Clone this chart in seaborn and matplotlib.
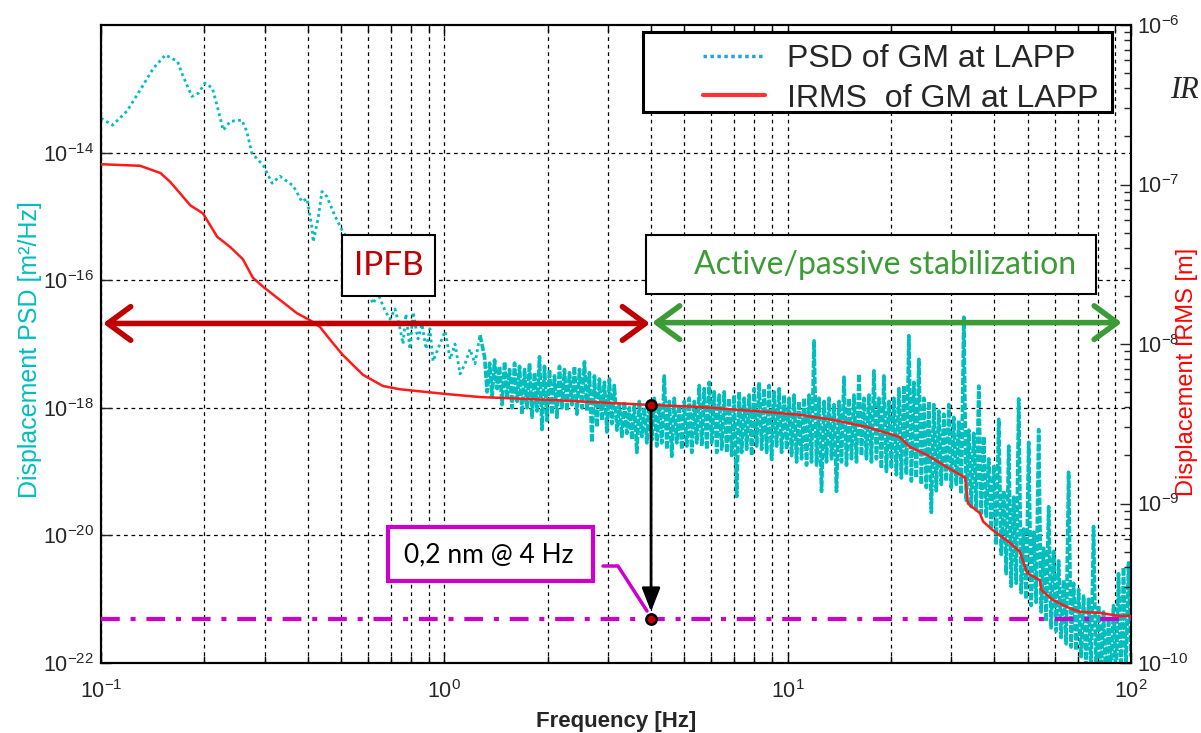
import numpy as np
import matplotlib
matplotlib.use("Agg")
import matplotlib.pyplot as plt
import seaborn as sns
from matplotlib.patches import Rectangle
from matplotlib.lines import Line2D
from matplotlib.ticker import (FixedLocator, LogLocator, NullLocator,
                               NullFormatter, LogFormatterSciNotation)

# ---------------- data ----------------
# PSD of ground motion, low-frequency part: frequency [Hz] and log10(PSD [m^2/Hz])
psd_lo_freq = [0.100, 0.108, 0.119, 0.130, 0.142, 0.154, 0.167, 0.173, 0.184, 0.192,
               0.201, 0.211, 0.218, 0.227, 0.238, 0.257, 0.266, 0.275, 0.297, 0.315,
               0.332, 0.363, 0.385, 0.398, 0.412, 0.415, 0.429, 0.440, 0.455, 0.480,
               0.504, 0.53, 0.56, 0.59, 0.608, 0.620, 0.641, 0.672, 0.695, 0.718,
               0.743, 0.758, 0.773, 0.794, 0.811, 0.838, 0.861, 0.885, 0.908, 0.927,
               0.971, 1.005, 1.04, 1.074, 1.111, 1.149, 1.188, 1.228, 1.27]
psd_lo_exp = [-13.46, -13.57, -13.35, -13.02, -12.68, -12.47, -12.57, -12.79, -13.12, -13.07,
              -12.91, -12.99, -13.27, -13.65, -13.51, -13.49, -13.67, -14.01, -14.20, -14.48,
              -14.37, -14.52, -14.77, -14.72, -15.19, -15.40, -15.03, -14.61, -14.69, -14.99,
              -15.22, -15.40, -15.55, -15.85, -16.25, -16.37, -16.21, -16.48, -16.61, -16.45,
              -16.76, -17.00, -16.53, -17.08, -16.50, -16.92, -16.69, -17.08, -16.76, -17.27,
              -17.00, -16.80, -17.24, -17.00, -17.47, -17.31, -17.08, -17.31, -16.86]

# PSD, dense part 1.31 - 100 Hz (log10 values, successive high / low samples)
psd_hf_range = (1.31, 100.0)
psd_hf_exp = [
    -17.20, -17.75, -17.30, -17.82, -17.25, -17.70, -17.35, -17.95, -17.28, -17.85,
    -17.40, -18.00, -17.30, -17.90, -17.35, -18.10, -17.40, -18.00, -17.30, -18.15,
    -17.45, -18.05, -17.20, -18.34, -17.35, -18.20, -17.40, -18.10, -17.50, -18.15,
    -17.35, -18.00, -17.40, -18.05, -17.45, -17.95, -17.35, -18.10, -17.40, -18.00,
    -17.28, -18.05, -17.45, -18.54, -17.50, -18.30, -17.55, -18.20, -17.60, -18.38,
    -17.55, -18.25, -17.65, -18.35, -17.95, -18.45, -17.90, -18.40, -18.00, -18.50,
    -17.95, -18.70, -17.90, -18.45, -18.00, -18.55, -17.90, -18.50, -17.85, -18.60,
    -17.95, -18.55, -17.50, -18.65, -17.90, -18.76, -17.85, -18.55, -17.95, -18.65,
    -17.90, -18.60, -17.85, -18.70, -17.90, -18.55, -17.65, -18.60, -17.70, -18.65,
    -17.60, -18.55, -17.75, -18.70, -17.80, -18.65, -17.75, -18.70, -17.85, -18.75,
    -17.80, -19.39, -17.75, -18.70, -17.85, -18.65, -17.80, -18.75, -17.70, -18.60,
    -17.60, -18.65, -17.70, -18.70, -17.65, -18.81, -17.75, -18.60, -17.70, -18.70,
    -17.80, -18.65, -17.85, -18.75, -17.80, -18.85, -17.90, -18.80, -17.85, -18.90,
    -17.80, -18.85, -16.95, -18.90, -17.85, -19.31, -17.90, -18.85, -17.85, -18.80,
    -17.95, -19.31, -17.90, -18.85, -17.52, -18.90, -17.85, -18.80, -17.80, -18.85,
    -17.47, -18.75, -17.85, -18.80, -17.80, -18.85, -17.42, -18.80, -17.85, -18.95,
    -17.50, -19.00, -17.90, -18.95, -17.85, -19.05, -17.70, -19.10, -17.65, -19.05,
    -16.87, -19.15, -17.60, -19.10, -17.24, -19.20, -17.85, -19.25, -17.90, -19.64,
    -17.95, -19.30, -18.05, -19.20, -18.10, -19.15, -17.95, -19.25, -18.15, -19.20,
    -18.20, -19.35, -16.58, -19.45, -18.35, -19.55, -18.40, -19.60, -17.66, -19.65,
    -18.45, -19.70, -18.80, -19.90, -18.90, -20.15, -18.18, -20.30, -19.30, -20.60,
    -18.60, -20.80, -19.40, -20.75, -17.86, -20.90, -19.90, -21.00, -18.54, -21.10,
    -19.95, -21.05, -18.34, -21.20, -20.20, -21.35, -19.55, -21.45, -20.25, -21.50,
    -20.40, -21.60, -20.70, -21.70, -19.01, -21.75, -20.75, -21.80, -20.85, -21.90,
    -20.95, -22.10, -21.00, -22.05, -19.86, -22.20, -21.10, -22.15, -21.20, -22.30,
    -21.30, -22.20, -21.10, -22.30, -20.60, -22.20, -20.50, -22.10, -20.43, -21.90,
]

# Integrated RMS displacement [m]
irms_freq = [0.100, 0.130, 0.149, 0.159, 0.170, 0.182, 0.198, 0.218, 0.238, 0.259,
             0.277, 0.297, 0.332, 0.372, 0.406, 0.434, 0.474, 0.507, 0.580, 0.663,
             0.743, 0.811, 1.02, 1.27, 2.03, 3.97, 5.56, 8.7, 10.9, 13.6,
             17.0, 21.2, 22.7, 25.5, 29.1, 32.9, 33.5, 36.3, 37.1, 39.6,
             44.5, 47.5, 49.8, 54.3, 54.8, 59.3, 65.2, 71.1, 81.3, 92.9, 100.0]
irms_val = [1.34e-7, 1.31e-7, 1.18e-7, 1.04e-7, 8.8e-8, 7.4e-8, 6.6e-8, 4.7e-8, 4.05e-8, 3.4e-8,
            2.6e-8, 2.28e-8, 1.89e-8, 1.56e-8, 1.41e-8, 1.28e-8, 1.01e-8, 8.5e-9, 6.4e-9, 5.45e-9,
            5.2e-9, 5.1e-9, 4.85e-9, 4.65e-9, 4.46e-9, 4.15e-9, 4.03e-9, 3.75e-9, 3.59e-9, 3.34e-9,
            3.02e-9, 2.61e-9, 2.26e-9, 2.01e-9, 1.69e-9, 1.45e-9, 1.0e-9, 8.7e-10, 7.7e-10, 6.8e-10,
            5.65e-10, 4.97e-10, 3.67e-10, 3.3e-10, 2.87e-10, 2.48e-10, 2.24e-10, 2.09e-10, 2.06e-10,
            1.97e-10, 1.97e-10]

# annotation values
marker_freq = 4.0          # Hz
rms_at_marker = 4.15e-9    # m
target_rms = 1.9e-10       # m  (0.2 nm)
band_split = 4.0           # Hz, IPFB | active/passive
band_min, band_max = 0.1014, 94.0
band_level = 2.1e-17       # PSD units, height of the band arrows

x_ticks = [0.1, 1, 10, 100]
psd_ticks = [1e-22, 1e-20, 1e-18, 1e-16, 1e-14]
irms_ticks = [1e-10, 1e-9, 1e-8, 1e-7, 1e-6]
legend_labels = ["PSD of GM at LAPP", "IRMS  of GM at LAPP"]

hf_freq = np.geomspace(psd_hf_range[0], psd_hf_range[1], len(psd_hf_exp))
lo_val = 10.0 ** np.array(psd_lo_exp)
hf_val = 10.0 ** np.array(psd_hf_exp)

# ---------------- style ----------------
sns.set_style("white")
plt.rcParams["font.family"] = ["Liberation Sans", "DejaVu Sans"]
plt.rcParams["mathtext.default"] = "regular"
plt.rcParams["axes.unicode_minus"] = False

CYAN = "#00BEBE"
RED = "#FF1A1A"
DARKRED = "#C00000"
GREEN = "#3B9B35"
MAGENTA = "#CC00CC"

W, H = 1201, 733
fig = plt.figure(figsize=(W / 100, H / 100), dpi=100)
fig.patch.set_facecolor("white")


def fx(px):
    return px / W


def fy(py):
    return 1 - py / H


ax = fig.add_axes([fx(101), fy(663), 1030 / W, 638 / H])
ax2 = ax.twinx()

# ---------------- curves ----------------
sns.lineplot(x=psd_lo_freq, y=lo_val, ax=ax, color=CYAN, linewidth=2.0,
             linestyle=(0, (1, 1.2)), estimator=None, sort=False, legend=False)
sns.lineplot(x=np.concatenate([psd_lo_freq[-1:], hf_freq]),
             y=np.concatenate([lo_val[-1:], hf_val]), ax=ax, color=CYAN, linewidth=2.6,
             linestyle=(0, (2.0, 0.5)), estimator=None, sort=False, legend=False)
sns.lineplot(x=irms_freq, y=irms_val, ax=ax2, color=RED, linewidth=1.8,
             estimator=None, sort=False, legend=False, zorder=4)

ax.set_xscale("log")
ax.set_yscale("log")
ax2.set_yscale("log")
ax.set_xlim(0.1, 100)
ax.set_ylim(1e-22, 1e-12)
ax2.set_ylim(1e-10, 1e-6)

# target level line
ax2.axhline(target_rms, color=MAGENTA, linewidth=3.0, dashes=(4.5, 2.6, 1.2, 2.6), zorder=3)

# ---------------- ticks & grid ----------------
ax.xaxis.set_major_locator(FixedLocator(x_ticks))
ax.xaxis.set_minor_locator(LogLocator(base=10, subs=np.arange(2, 10)))
ax.xaxis.set_minor_formatter(NullFormatter())
ax.xaxis.set_major_formatter(LogFormatterSciNotation())
ax.yaxis.set_major_locator(FixedLocator(psd_ticks))
ax.yaxis.set_minor_locator(NullLocator())
ax.yaxis.set_major_formatter(LogFormatterSciNotation())
ax2.yaxis.set_major_locator(FixedLocator(irms_ticks))
ax2.yaxis.set_minor_locator(LogLocator(base=10, subs=np.arange(2, 10)))
ax2.yaxis.set_minor_formatter(NullFormatter())
ax2.yaxis.set_major_formatter(LogFormatterSciNotation())

ax.tick_params(axis="x", which="both", direction="in", top=True, bottom=True,
               labelsize=15.5, pad=12, color="black", width=1)
ax.tick_params(axis="x", which="major", length=8)
ax.tick_params(axis="x", which="minor", length=5)
ax.tick_params(axis="y", which="major", direction="in", left=True, right=False,
               labelsize=15.5, pad=5, length=7, width=1)
ax2.tick_params(axis="y", which="both", direction="in", right=True, left=False,
                labelsize=15.5, pad=4, width=1)
ax2.tick_params(axis="y", which="major", length=8)
ax2.tick_params(axis="y", which="minor", length=5)

grid_kw = dict(color="black", linestyle=(0, (3, 3)), linewidth=0.9)
ax.grid(True, which="both", axis="x", **grid_kw)
ax.grid(True, which="major", axis="y", **grid_kw)

for a in (ax, ax2):
    for s in a.spines.values():
        s.set_color("black")
        s.set_linewidth(1.5)

# ---------------- labels ----------------
ax.set_xlabel("Frequency [Hz]", fontsize=16, fontweight="bold", labelpad=6)
ax.set_ylabel("Displacement PSD [m²/Hz]", fontsize=18, color=CYAN, va="center")
ax.yaxis.set_label_coords((30 - 101) / 1030, (663 - 350) / 638)
ax2.set_ylabel("Displacement IRMS [m]", fontsize=17, color="red", va="center", rotation=90)
ax2.yaxis.set_label_coords((1187 - 101) / 1030, (663 - 372) / 638)

fig.text(fx(1170), fy(90), "IR", fontsize=22, family="Liberation Serif", style="italic",
         ha="left", va="center")

# ---------------- band arrows ----------------
ax2.annotate("", xy=(band_split * 0.993, band_level), xycoords=ax.transData,
             xytext=(band_min, band_level), textcoords=ax.transData,
             arrowprops=dict(arrowstyle="<->,head_length=0.75,head_width=0.55",
                             color=DARKRED, lw=4, shrinkA=0, shrinkB=0, mutation_scale=22),
             zorder=6)
ax2.annotate("", xy=(band_max, band_level * 1.03), xycoords=ax.transData,
             xytext=(band_split * 1.007, band_level * 1.03), textcoords=ax.transData,
             arrowprops=dict(arrowstyle="<->,head_length=0.75,head_width=0.55",
                             color=GREEN, lw=4, shrinkA=0, shrinkB=0, mutation_scale=22),
             zorder=6)

# vertical arrow from IRMS at 4 Hz down to the 0.2 nm level
ax2.annotate("", xy=(marker_freq, target_rms), xytext=(marker_freq, rms_at_marker),
             arrowprops=dict(arrowstyle="-|>,head_length=0.9,head_width=0.35", color="black",
                             lw=2, shrinkA=0, shrinkB=5, mutation_scale=16), zorder=7)
ax2.scatter([marker_freq, marker_freq], [rms_at_marker, target_rms], s=55, c=DARKRED,
            edgecolors="black", linewidths=1.8, zorder=8)

# ---------------- text boxes (figure level, on top) ----------------
def box(x0, y0, x1, y1, ec="black", lw=1.5):
    fig.add_artist(Rectangle((fx(x0), fy(y1)), (x1 - x0) / W, (y1 - y0) / H,
                             transform=fig.transFigure, facecolor="white",
                             edgecolor=ec, linewidth=lw, zorder=5))


box(342, 235, 435, 296)
fig.text(fx(389), fy(266), "IPFB", fontsize=24, family=["Lato", "DejaVu Sans"],
         color=DARKRED, ha="center", va="center", zorder=6)
box(646, 235, 1096, 294)
fig.text(fx(885), fy(265), "Active/passive stabilization", fontsize=23,
         family=["Lato", "DejaVu Sans"], color=GREEN, ha="center", va="center", zorder=6)

box(388, 527, 593, 581, ec=MAGENTA, lw=3)
fig.text(fx(489), fy(555), "0,2 nm @ 4 Hz", fontsize=19, family=["Lato", "DejaVu Sans"],
         color="black", ha="center", va="center", zorder=6)
fig.add_artist(Line2D([fx(603), fx(618), fx(647)], [fy(566), fy(566), fy(611)],
                      transform=fig.transFigure, color=MAGENTA, linewidth=2.5, zorder=5))

# ---------------- legend ----------------
box(643, 32, 1112, 112, lw=2.2)
handles = [Line2D([], [], color="#1FA6DE", linewidth=2.5, linestyle=(0, (1, 1))),
           Line2D([], [], color="#FF3333", linewidth=3)]
leg = fig.legend(handles, legend_labels, loc="upper left",
                 bbox_to_anchor=(fx(703), fy(44)), frameon=False, fontsize=23,
                 handlelength=1.94, handletextpad=0.7, labelspacing=0.3,
                 borderpad=0, borderaxespad=0)
leg.set_zorder(7)

fig.savefig("out.png", dpi=100, facecolor="white")
